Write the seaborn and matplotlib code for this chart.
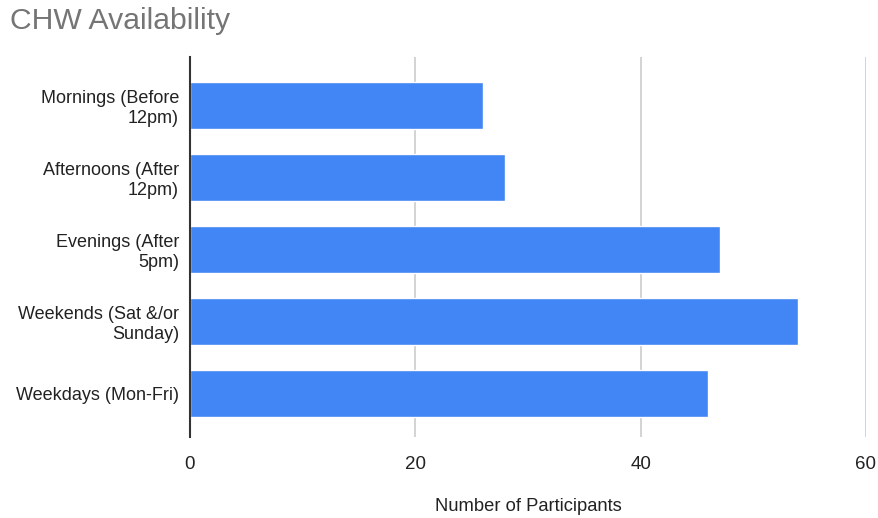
import matplotlib
matplotlib.use("Agg")
import matplotlib.pyplot as plt
import seaborn as sns
import pandas as pd

categories = ["Mornings (Before\n12pm)", "Afternoons (After\n12pm)", "Evenings (After\n5pm)",
              "Weekends (Sat &/or\nSunday)", "Weekdays (Mon-Fri)"]
values = [26, 28, 47, 54, 46]
x_ticks = [0, 20, 40, 60]

sns.set_style("white")
plt.rcParams['font.family'] = ['Liberation Sans', 'DejaVu Sans']

df = pd.DataFrame({"category": categories, "value": values})

fig = plt.figure(figsize=(8.79, 5.18), dpi=100)
ax = fig.add_axes([190/879, 1-437/518, 676/879, 380/518])

ax.set_axisbelow(True)
for t in x_ticks[1:]:
    ax.axvline(t, color="#cccccc", lw=1.2, zorder=0)

sns.barplot(data=df, x="value", y="category", color="#4285F4", saturation=1,
            width=0.65, ax=ax, zorder=2)

ax.set_xlim(0, 60)
ax.set_ylim(4.61, -0.674)
ax.set_xticks(x_ticks)
ax.tick_params(axis='x', length=0, labelsize=13.5, colors="#222222", pad=14)
ax.tick_params(axis='y', length=0, labelsize=13, colors="#222222", pad=8)
for lbl in ax.get_yticklabels():
    lbl.set_horizontalalignment("right")
    lbl.set_linespacing(1.2)
ax.set_ylabel("")
ax.set_xlabel("Number of Participants", fontsize=13.2, color="#222222", labelpad=18)

for s in ["top", "right", "bottom"]:
    ax.spines[s].set_visible(False)
ax.spines["left"].set_color("#333333")
ax.spines["left"].set_linewidth(1.5)
ax.spines["left"].set_zorder(3)

fig.text(10/879, 1-21/518, "CHW Availability", fontsize=21.7, color="#757575",
         ha="left", va="center")

fig.savefig("out.png", dpi=100)
